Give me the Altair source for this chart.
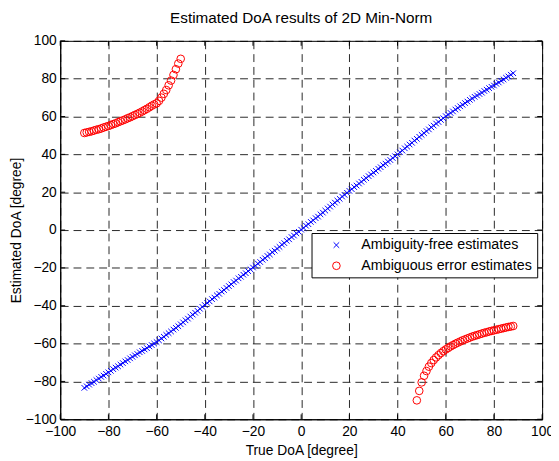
import altair as alt
import pandas as pd

# ---- data ----
true_blue = list(range(-90, 89))
est_blue = [
    -83.4, -82.6, -81.7, -80.9, -80.2, -79.3, -78.5, -77.6, -76.9, -76.0,
    -75.2, -74.4, -73.5, -72.7, -72.0, -71.1, -70.3, -69.4, -68.7, -67.8,
    -67.0, -66.2, -65.5, -64.6, -63.9, -63.1, -62.4, -61.5, -60.8, -60.0,
    -59.2, -58.3, -57.3, -56.4, -55.4, -54.5, -53.6, -52.6, -51.7, -50.8,
    -49.8, -48.8, -47.7, -46.8, -45.7, -44.7, -43.7, -42.7, -41.6, -40.6,
    -39.6, -38.5, -37.7, -36.5, -35.7, -34.5, -33.7, -32.5, -31.7, -30.6,
    -29.6, -28.7, -27.5, -26.7, -25.5, -24.7, -23.6, -22.8, -21.7, -20.8,
    -19.8, -18.9, -17.7, -16.9, -15.7, -14.9, -13.7, -12.9, -11.7, -10.9,
    -9.8, -8.9, -7.7, -6.9, -5.7, -4.9, -3.7, -2.9, -1.7, -0.9,
    0.2, 1.1, 2.3, 3.1, 4.3, 5.1, 6.3, 7.1, 8.3, 9.2,
    10.3, 11.4, 12.4, 13.5, 14.5, 15.6, 16.5, 17.7, 18.6, 19.7,
    20.7, 21.6, 22.7, 23.5, 24.6, 25.5, 26.6, 27.4, 28.5, 29.4,
    30.4, 31.3, 32.4, 33.2, 34.3, 35.1, 36.2, 37.0, 38.1, 39.0,
    40.0, 41.1, 42.0, 43.2, 44.1, 45.2, 46.1, 47.3, 48.2, 49.3,
    50.3, 51.2, 52.3, 53.2, 54.3, 55.2, 56.3, 57.1, 58.2, 59.1,
    60.2, 61.0, 61.9, 62.7, 63.7, 64.5, 65.4, 66.2, 67.1, 67.9,
    68.8, 69.5, 70.4, 71.1, 71.9, 72.6, 73.5, 74.2, 75.0, 75.7,
    76.4, 77.3, 78.0, 78.9, 79.6, 80.5, 81.2, 82.1, 82.9,
]

true_red_left = list(range(-90, -49))
est_red_left = [
    51.3, 51.6, 51.9, 52.2, 52.6, 53.0, 53.3, 53.7, 54.2, 54.6,
    55.0, 55.5, 56.0, 56.4, 57.0, 57.5, 58.0, 58.5, 59.1, 59.6,
    60.2, 60.8, 61.4, 62.0, 62.7, 63.4, 64.1, 64.9, 65.7, 66.4,
    67.0, 68.3, 70.0, 72.0, 74.0, 76.5, 79.0, 82.0, 85.0, 88.0,
    90.5,
]

true_red_right = list(range(48, 89))
est_red_right = [
    -90.0, -85.0, -80.5, -77.0, -74.5, -72.2, -70.3, -68.7, -67.3, -66.1,
    -65.0, -64.0, -63.1, -62.3, -61.5, -60.8, -60.1, -59.5, -58.9, -58.3,
    -57.8, -57.3, -56.8, -56.3, -55.9, -55.5, -55.1, -54.7, -54.3, -54.0,
    -53.6, -53.3, -53.0, -52.7, -52.4, -52.1, -51.8, -51.5, -51.2, -51.0,
    -50.7,
]

series_names = ["Ambiguity-free estimates", "Ambiguous error estimates"]
tick_values = [-100, -80, -60, -40, -20, 0, 20, 40, 60, 80, 100]

# ---- tables ----
df = pd.DataFrame({
    "x": true_blue + true_red_left + true_red_right,
    "y": est_blue + est_red_left + est_red_right,
    "s": [series_names[0]] * len(true_blue)
         + [series_names[1]] * (len(true_red_left) + len(true_red_right)),
})
xt = pd.DataFrame({"x": tick_values})
yt = pd.DataFrame({"y": tick_values})

W, H = 489, 384
FONT = "Liberation Sans"
xscale = alt.Scale(domain=[-100, 100], nice=False, zero=False)
yscale = alt.Scale(domain=[-100, 100], nice=False, zero=False)

common_axis = dict(
    values=tick_values, format="d", grid=True, gridColor="black",
    gridDash=[8, 5], gridOpacity=0.85, gridWidth=1, ticks=False,
    domainColor="black", labelColor="black", labelFont=FONT,
    labelFontSize=14, titleFont=FONT, titleFontSize=14,
    titleFontWeight="normal", titleColor="black", labelOverlap=False,
)
xaxis = alt.Axis(title="True DoA [degree]", labelPadding=5, titlePadding=6,
                 labelFlush=False, **common_axis)
yaxis = alt.Axis(title="Estimated DoA [degree]", labelPadding=4,
                 titlePadding=2, **common_axis)

points = alt.Chart(df).mark_point(filled=False, strokeWidth=1, opacity=1).encode(
    x=alt.X("x:Q", scale=xscale, axis=xaxis),
    y=alt.Y("y:Q", scale=yscale, axis=yaxis),
    color=alt.Color("s:N", scale=alt.Scale(domain=series_names,
                                             range=["#0000ff", "#ff0000"]),
                    legend=alt.Legend(
                        orient="none", legendX=255, legendY=195, title=None,
                        fillColor="white", strokeColor="black", padding=5,
                        symbolOffset=13, labelOffset=18, rowPadding=6,
                        labelFont=FONT, labelFontSize=14.5, labelColor="black",
                        labelLimit=400, symbolStrokeWidth=1)),
    shape=alt.Shape("s:N", scale=alt.Scale(domain=series_names,
                                             range=["M-1,-1L1,1M-1,1L1,-1", "circle"])),
    size=alt.Size("s:N", scale=alt.Scale(domain=series_names, range=[32, 60])),
)

tick_b = alt.Chart(xt).mark_rule(color="black").encode(
    x=alt.X("x:Q", scale=xscale, axis=xaxis), y=alt.value(H - 5), y2=alt.value(H))
tick_t = alt.Chart(xt).mark_rule(color="black").encode(
    x=alt.X("x:Q", scale=xscale, axis=xaxis), y=alt.value(0), y2=alt.value(5))
tick_l = alt.Chart(yt).mark_rule(color="black").encode(
    y=alt.Y("y:Q", scale=yscale, axis=yaxis), x=alt.value(0), x2=alt.value(5))
tick_r = alt.Chart(yt).mark_rule(color="black").encode(
    y=alt.Y("y:Q", scale=yscale, axis=yaxis), x=alt.value(W - 5), x2=alt.value(W))

chart = alt.layer(points, tick_b, tick_t, tick_l, tick_r).properties(
    width=W, height=H,
    background="white",
    title=alt.TitleParams("Estimated DoA results of 2D Min-Norm", font=FONT,
                          fontSize=15.5, fontWeight="normal", color="black",
                          offset=8),
    autosize=alt.AutoSizeParams(type="none"),
    padding={"left": 53, "top": 30, "right": 9, "bottom": 38},
).configure_view(stroke="black", strokeWidth=1).configure_title(
    fontSize=15.5, font=FONT)

chart.save("out.html", embed_options={"renderer": "svg", "actions": False})
